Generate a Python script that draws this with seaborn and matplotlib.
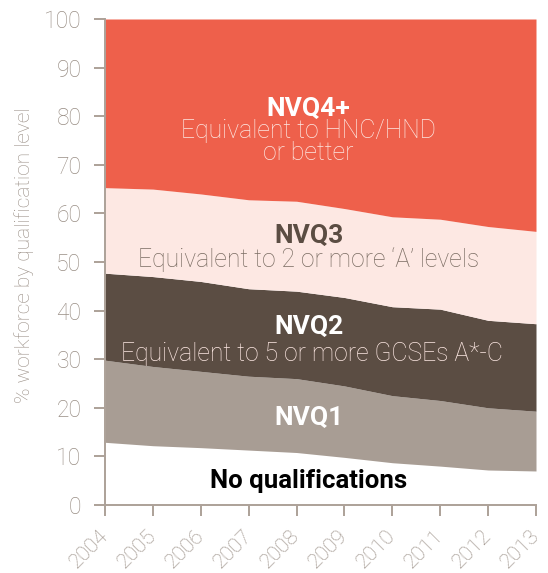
import seaborn as sns
import matplotlib.pyplot as plt

# === DATA (% of workforce) ===
years = [2004, 2005, 2006, 2007, 2008, 2009, 2010, 2011, 2012, 2013]
no_qual = [12.9, 12.2, 11.8, 11.3, 10.8, 9.8, 8.7, 8.0, 7.2, 7.0]
nvq1 = [16.9, 16.3, 15.7, 15.2, 15.2, 14.7, 13.8, 13.5, 12.8, 12.3]
nvq2 = [17.9, 18.5, 18.5, 18.0, 18.0, 18.2, 18.3, 18.8, 18.0, 18.0]
nvq3 = [17.6, 18.0, 18.0, 18.3, 18.5, 18.3, 18.5, 18.5, 19.3, 19.0]
nvq4 = [34.7, 35.0, 36.0, 37.2, 37.5, 39.0, 40.7, 41.2, 42.7, 43.7]

colors = ["#FFFFFF", "#A89D94", "#5B4D43", "#FDE8E3", "#EE604B"]
axis_grey = "#ACA198"
text_grey = "#998E85"

sns.set_theme(style="white")
plt.rcParams["font.family"] = ["Roboto", "DejaVu Sans"]

fig = plt.figure(figsize=(5.48, 5.73), dpi=100, facecolor="white")
ax = fig.add_axes([105 / 548, 68 / 573, 431 / 548, 486 / 573])

ax.stackplot(years, no_qual, nvq1, nvq2, nvq3, nvq4, colors=colors, linewidth=0)

ax.set_xlim(2004, 2013)
ax.set_ylim(0, 100)
ax.set_xticks(years)
ax.set_yticks(range(0, 101, 10))
ax.set_xticklabels([str(y) for y in years], rotation=45, ha="right", va="center",
                   rotation_mode="anchor", fontsize=15, color=text_grey,
                   fontweight="light")
ax.set_yticklabels([str(v) for v in range(0, 101, 10)], fontsize=16.5,
                   color=text_grey, fontweight="light")
ax.tick_params(axis="both", which="both", direction="out", length=8,
               width=1.4, color=axis_grey)
ax.tick_params(axis="x", bottom=True, pad=12)
ax.tick_params(axis="y", left=True, pad=9)

sns.despine(ax=ax, top=True, right=True)
for side in ["left", "bottom"]:
    ax.spines[side].set_color(axis_grey)
    ax.spines[side].set_linewidth(1.4)

ax.set_ylabel("% workforce by qualification level", fontsize=15,
              color=text_grey, fontweight="light")
ax.yaxis.set_label_coords(-0.165, 0.514)

# band labels
xc = 2008.25
head = dict(ha="center", va="baseline", fontsize=19, fontweight="bold")
sub = dict(ha="center", va="baseline", fontsize=17.8, fontweight="light")

ax.text(xc, 80.0, "NVQ4+", color="white", **head)
ax.text(xc, 75.5, "Equivalent to HNC/HND", color="#FDE8E3", **sub)
ax.text(xc, 71.0, "or better", color="#FDE8E3", **sub)

ax.text(xc, 53.9, "NVQ3", color="#5B4D43", **head)
ax.text(xc, 49.0, "Equivalent to 2 or more \u2018A\u2019 levels", color="#7A6C62", **sub)

ax.text(xc, 35.2, "NVQ2", color="white", **head)
ax.text(2008.33, 29.6, "Equivalent to 5 or more GCSEs A*-C", color="#FDE8E3", **sub)

ax.text(xc, 16.5, "NVQ1", color="white", **head)

ax.text(xc, 3.5, "No qualifications", ha="center", va="baseline",
        fontsize=18.5, fontweight="bold", color="black")

plt.savefig("out.png", dpi=100, facecolor="white")
plt.close()
